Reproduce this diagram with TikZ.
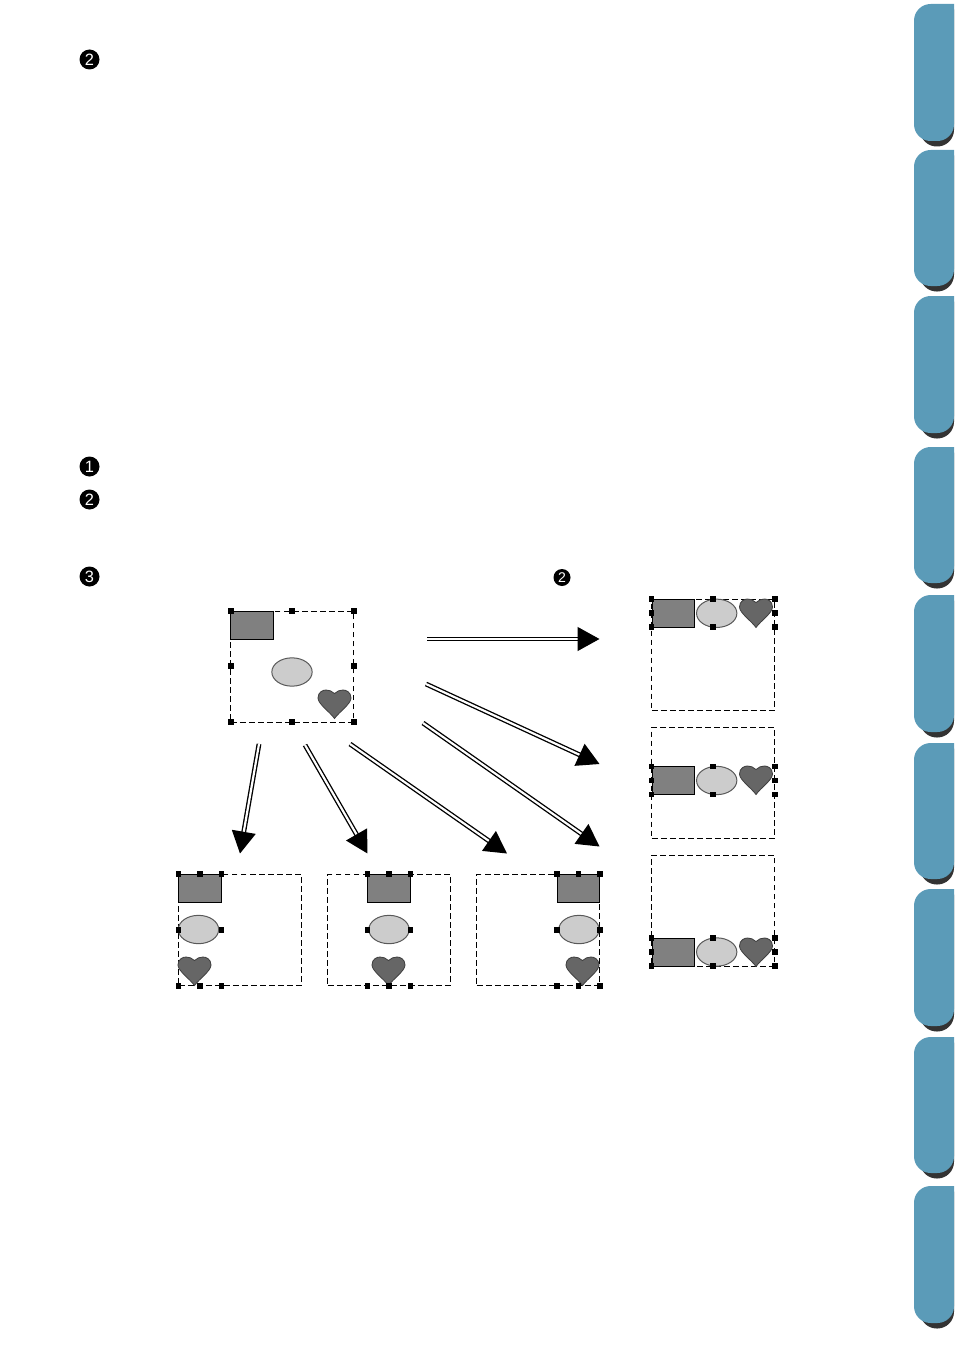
\documentclass[tikz,border=0pt]{standalone}
\usepackage{fontspec}
\newfontfamily\numfont{Liberation Sans}
\usepackage{tikz}
\usetikzlibrary{arrows.meta,shapes.geometric}
\usepackage{xcolor}
\definecolor{tabblue}{RGB}{91,155,184}
\definecolor{tabdark}{RGB}{51,51,51}
\definecolor{rectgray}{RGB}{128,128,128}
\definecolor{ovalgray}{RGB}{204,204,204}
\definecolor{heartgray}{RGB}{102,102,102}
\tikzstyle{selbox} = [rectangle, draw=black, line width=0.028cm, dash pattern=on 0.17cm off 0.1cm, minimum width=3.67cm, minimum height=3.33cm, inner sep=0pt]
\tikzstyle{rectmark} = [rectangle, draw=black, line width=0.03cm, fill=rectgray, minimum width=1.27cm, minimum height=0.84cm, inner sep=0pt]
\tikzstyle{ovalmark} = [ellipse, draw=black!65, line width=0.03cm, fill=ovalgray, minimum width=1.21cm, minimum height=0.85cm, inner sep=0pt]
\tikzstyle{handle} = [rectangle, fill=black, minimum size=0.165cm, inner sep=0pt]
\tikzstyle{bullet} = [circle, fill=black, text=white, minimum size=0.6cm, inner sep=0pt, font=\numfont\fontsize{14}{14}\selectfont]
\tikzstyle{dblarrow} = [line width=0.04cm, double=white, double distance=0.065cm, -{Triangle[length=0.66cm,width=0.72cm]}]
\tikzset{heartmark/.pic={
  \fill[heartgray, draw=black!75, line width=0.025cm] (16.5,28.5) .. controls (12,22) and (0,14) .. (0,8) .. controls (0,2) and (5,0) .. (8,0) .. controls (11,0) and (14,1) .. (16.5,3.5) .. controls (19,1) and (22,0) .. (25,0) .. controls (28,0) and (33,2) .. (33,8) .. controls (33,14) and (21,22) .. (16.5,28.5) -- cycle;
}}
% eight handles round a selection
\newcommand{\handles}[7]{
  \node[handle] (#1a) at (#2,#5) {};
  \node[handle] (#1b) at (#3,#5) {};
  \node[handle] (#1c) at (#4,#5) {};
  \node[handle] (#1d) at (#2,#6) {};
  \node[handle] (#1e) at (#4,#6) {};
  \node[handle] (#1f) at (#2,#7) {};
  \node[handle] (#1g) at (#3,#7) {};
  \node[handle] (#1h) at (#4,#7) {};
}
% one side tab, with its shadow
\newcommand{\sidetab}[2]{
  \fill[tabdark, shift={(6,5.5)}] (948,#1) [rounded corners=0.5cm] -- (914,#1) -- (914,#2) -- (948,#2) [sharp corners] -- cycle;
  \fill[tabblue] (954,#1) [rounded corners=0.5cm] -- (914,#1) -- (914,#2) -- (954,#2) [sharp corners] -- cycle;
}

\begin{document}
\begin{tikzpicture}[x=0.03cm, y=-0.03cm]
\useasboundingbox (0,0) rectangle (954,1348);

% Side tabs
\sidetab{4}{141}
\sidetab{150}{286}
\sidetab{296}{433}
\sidetab{447}{583}
\sidetab{595}{732}
\sidetab{743}{879}
\sidetab{889}{1026}
\sidetab{1037}{1173}
\sidetab{1186}{1323}

% Step numbers
\node[bullet] (num0) at (89.5,59.5) {2};
\node[bullet] (num1) at (89.5,466.5) {1};
\node[bullet] (num2) at (89.5,499.5) {2};
\node[bullet] (num3) at (89.5,576.5) {3};
\node[bullet, minimum size=0.51cm, font=\numfont\fontsize{12}{12}\selectfont] (num4) at (562,577.5) {2};

% Source selection
\node[selbox] (srcbox) at (292,666.5) {};
\node[rectmark] (srcrect) at (252,625.3) {};
\node[ovalmark] (srcoval) at (292,672) {};
\pic (srcheart) at (318,690) {heartmark};
\handles{src}{231}{292}{354}{611}{666}{722}

% Aligned below, left
\node[selbox] (leftbox) at (240,930) {};
\node[rectmark] (leftrect) at (200,888.5) {};
\node[ovalmark] (leftoval) at (198.5,929.5) {};
\pic (leftheart) at (178,957) {heartmark};
\handles{left}{178.5}{200}{221.5}{874}{930}{986}

% Aligned below, centre
\node[selbox] (midbox) at (389,930) {};
\node[rectmark] (midrect) at (389,888.5) {};
\node[ovalmark] (midoval) at (389,929.5) {};
\pic (midheart) at (372,957) {heartmark};
\handles{mid}{367.5}{389}{410.5}{874}{930}{986}

% Aligned below, right
\node[selbox] (rightbox) at (538,930) {};
\node[rectmark] (rightrect) at (578.5,888.5) {};
\node[ovalmark] (rightoval) at (579,929.5) {};
\pic (rightheart) at (566,957) {heartmark};
\handles{right}{557}{578.5}{600}{874}{930}{986}

% Aligned at the side, top
\node[selbox] (topbox) at (713,654.8) {};
\node[rectmark] (toprect) at (673.5,613.3) {};
\node[ovalmark] (topoval) at (716.7,613.3) {};
\pic (topheart) at (739.5,599) {heartmark};
\handles{top}{651.5}{713}{775}{599}{613}{627}

% Aligned at the side, middle
\node[selbox] (cenbox) at (713,782.8) {};
\node[rectmark] (cenrect) at (673.5,780.5) {};
\node[ovalmark] (cenoval) at (716.7,780.5) {};
\pic (cenheart) at (739.5,766) {heartmark};
\handles{cen}{651.5}{713}{775}{766.5}{780.5}{794.5}

% Aligned at the side, bottom
\node[selbox] (botbox) at (713,910.5) {};
\node[rectmark] (botrect) at (673.5,952) {};
\node[ovalmark] (botoval) at (716.7,952) {};
\pic (botheart) at (739.5,938) {heartmark};
\handles{bot}{651.5}{713}{775}{938}{952}{966}

% Arrow ends
\coordinate (fromTop) at (427,639);
\coordinate (toTop) at (599.5,639);
\coordinate (fromCen) at (426,684);
\coordinate (toCen) at (599.5,764);
\coordinate (fromBot) at (423,723);
\coordinate (toBot) at (599.5,846.5);
\coordinate (fromRight) at (350,744);
\coordinate (toRight) at (507,853.5);
\coordinate (fromMid) at (305,745);
\coordinate (toMid) at (367.5,853.5);
\coordinate (fromLeft) at (259,744);
\coordinate (toLeft) at (240,853.5);

% Arrows
\draw[dblarrow] (fromTop) -- (toTop);
\draw[dblarrow] (fromCen) -- (toCen);
\draw[dblarrow] (fromBot) -- (toBot);
\draw[dblarrow] (fromRight) -- (toRight);
\draw[dblarrow] (fromMid) -- (toMid);
\draw[dblarrow] (fromLeft) -- (toLeft);
\end{tikzpicture}
\end{document}
